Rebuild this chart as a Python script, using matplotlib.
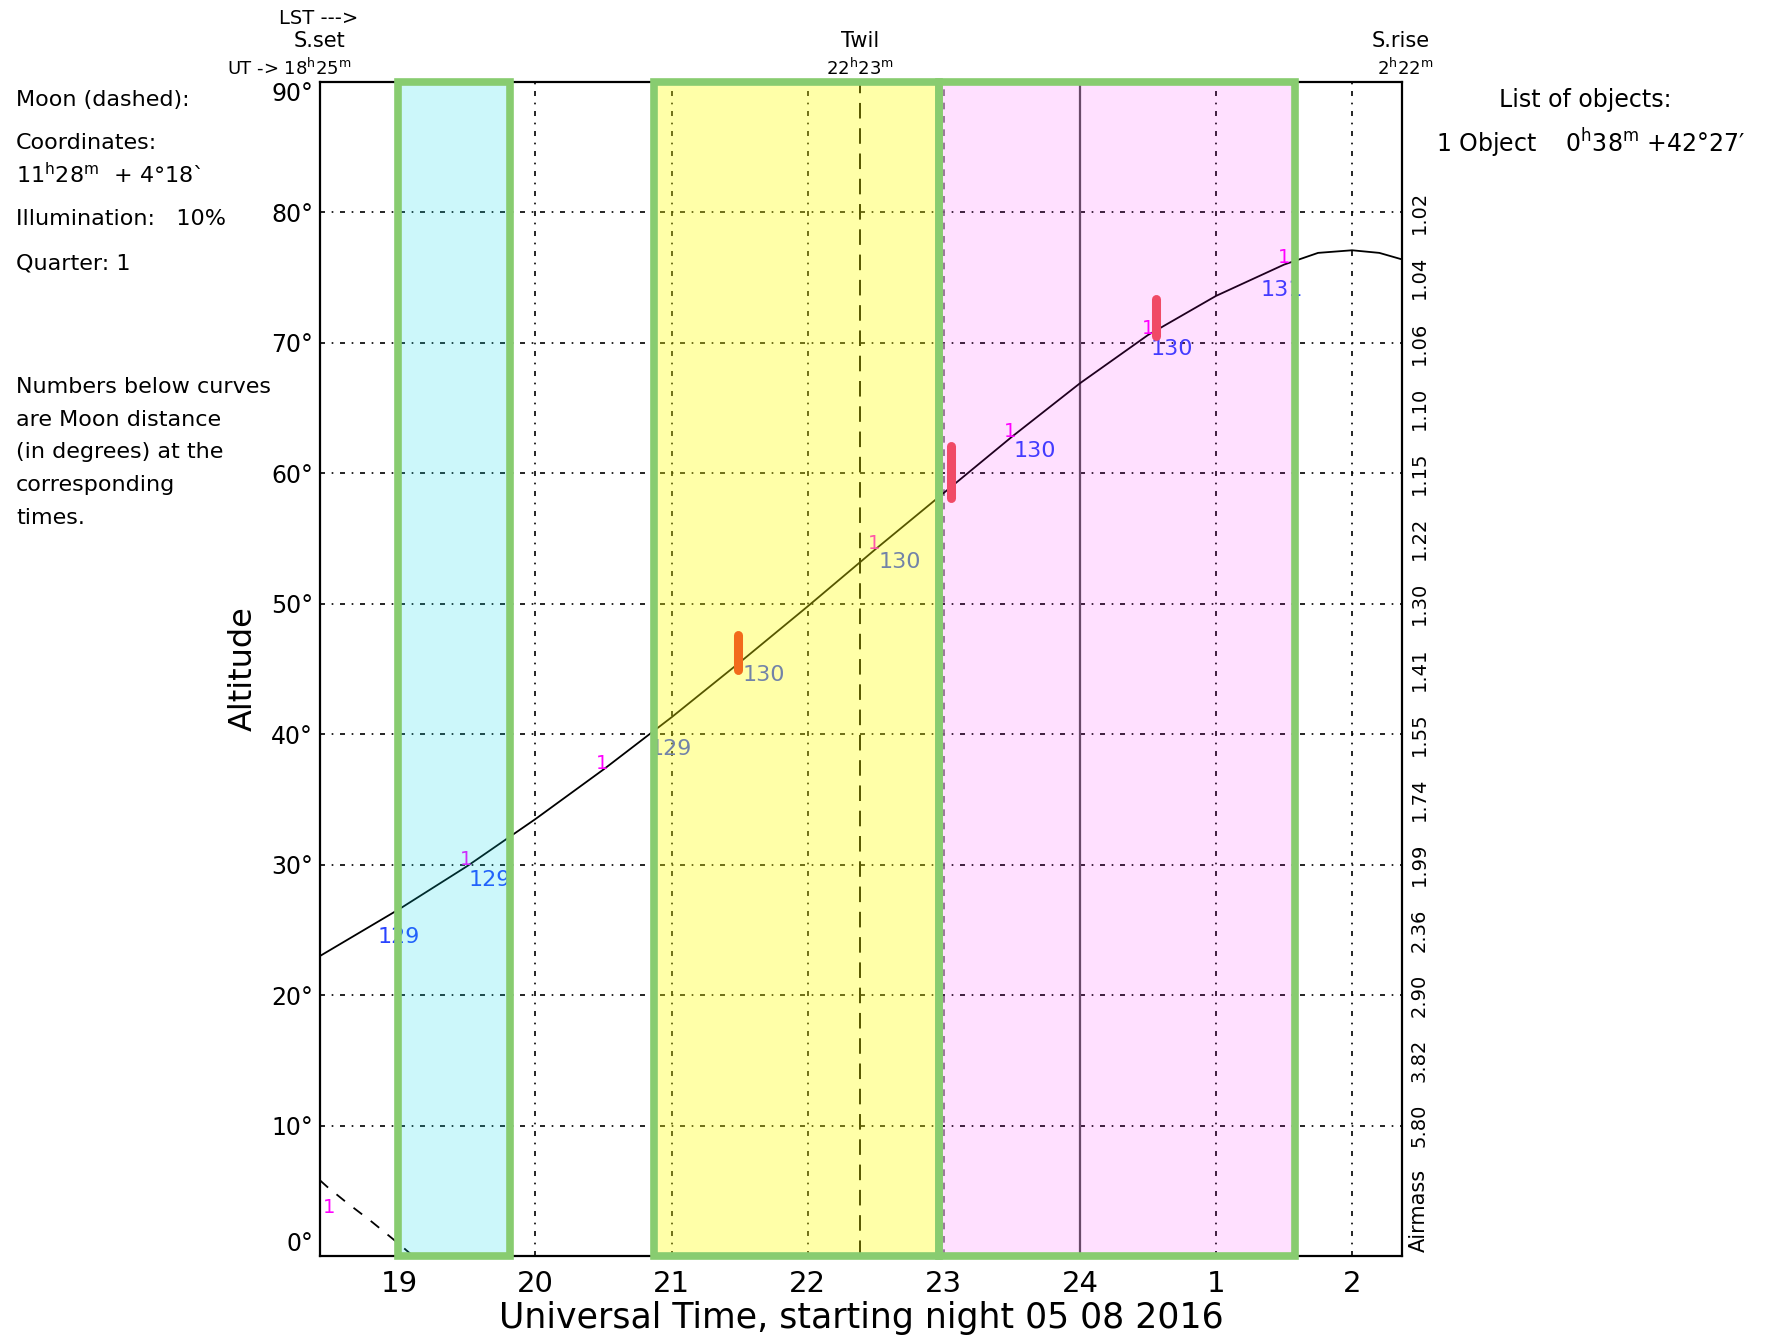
import numpy as np
import matplotlib
matplotlib.use('Agg')
import matplotlib.pyplot as plt
from matplotlib.patches import Rectangle
from matplotlib.transforms import blended_transform_factory

plt.rcParams['font.family'] = ['DejaVu Sans']
plt.rcParams['mathtext.default'] = 'regular'

# Night limits (UT hours, after midnight counted as 24+)
ut_set, ut_rise = 18.4167, 26.3667
ut_twil = 22.383

# Object 1 altitude curve
obj_ut = [18.4167, 19.0, 19.5, 20.0, 20.5, 21.0, 21.5, 22.0, 22.5, 23.0,
          23.5, 24.0, 24.5, 25.0, 25.5, 25.75, 26.0, 26.2, 26.3667]
obj_alt = [23.0, 26.6, 29.9, 33.5, 37.3, 41.3, 45.5, 49.8, 54.2, 58.5,
           62.8, 66.9, 70.6, 73.6, 76.0, 76.9, 77.1, 76.9, 76.4]

# Moon altitude (dashed)
moon_ut = [18.4167, 18.47, 18.6, 18.8, 19.0, 19.1]
moon_alt = [5.8, 5.3, 4.2, 2.6, 0.9, 0.0]

# object number markers and Moon distances
mark_ut = [19.49, 20.49, 22.49, 23.49, 24.50, 25.50]
dist_ut = [18.84, 19.51, 20.84, 21.52, 22.52, 23.51, 24.52, 25.33]
dist_txt = ['129', '129', '129', '130', '130', '130', '130', '131']

# observing windows
win_start = [18.99, 20.87, 22.963]
win_end = [19.81, 22.963, 25.58]
win_color = [(0.0, 0.86, 0.9), (1.0, 1.0, 0.0), (1.0, 0.0, 1.0)]
win_alpha = [0.2, 0.34, 0.12]

# coloured bars
bar_ut = [21.49, 23.05, 24.56]
bar_lo = [44.9, 58.1, 70.5]
bar_hi = [47.6, 62.1, 73.4]
bar_color = ['#f26a1c', '#f04a66', '#f04a66']

# airmass scale
am_alt = [80, 75, 70, 65, 60, 55, 50, 45, 40, 35, 30, 25, 20, 15, 10]
am_txt = ['1.02', '1.04', '1.06', '1.10', '1.15', '1.22', '1.30', '1.41',
          '1.55', '1.74', '1.99', '2.36', '2.90', '3.82', '5.80']

hour_ticks = [19, 20, 21, 22, 23, 24, 25, 26]
hour_labels = ['19', '20', '21', '22', '23', '24', '1', '2']
alt_ticks = [0, 10, 20, 30, 40, 50, 60, 70, 80, 90]

W, H = 1769, 1338
fig = plt.figure(figsize=(W / 100, H / 100), dpi=100)
ax = fig.add_axes([320 / W, 82 / H, 1082 / W, 1174 / H])
ax.set_xlim(ut_set, ut_rise)
ax.set_ylim(0, 90)

grid_ls = (0, (3, 4, 1, 4))
for a in alt_ticks[1:-1]:
    ax.axhline(a, color='black', lw=1.2, ls=grid_ls, zorder=1)
for h in hour_ticks:
    if h == 24:
        ax.axvline(h, color='#555555', lw=1.6, zorder=1)
    elif h == 23:
        ax.axvline(h, color='#777777', lw=1.2, ls=(0, (4, 4)), zorder=1)
    else:
        ax.axvline(h, color='black', lw=1.2, ls=grid_ls, zorder=1)
ax.axvline(ut_twil, color='black', lw=1.4, ls=(0, (8, 5)), zorder=1)

ax.plot(obj_ut, obj_alt, color='black', lw=1.3, zorder=2)
ax.plot(moon_ut, moon_alt, color='black', lw=1.3, ls=(0, (6, 6)), zorder=2)

ax.text(18.48, 3.0, '1', color='#ff00ff', fontsize=14, ha='center', va='bottom', zorder=3)
for t in mark_ut:
    ax.text(t, np.interp(t, obj_ut, obj_alt) - 0.2, '1', color='#ff00ff',
            fontsize=14, ha='center', va='bottom', zorder=3)
for t, s in zip(dist_ut, dist_txt):
    ax.text(t, np.interp(t, obj_ut, obj_alt) - 0.4, s, color='#2a44ff',
            fontsize=16, ha='left', va='top', zorder=3)

for x0, x1, c, a in zip(win_start, win_end, win_color, win_alpha):
    ax.axvspan(x0, x1, color=c, alpha=a, lw=0, zorder=4)

for t, lo, hi, c in zip(bar_ut, bar_lo, bar_hi, bar_color):
    ax.plot([t, t], [lo, hi], color=c, lw=6.5, solid_capstyle='round', zorder=5)

for x0, x1 in zip(win_start, win_end):
    ax.add_patch(Rectangle((x0, 0), x1 - x0, 90, fill=False, ec='#88cc70',
                           lw=5.5, joinstyle='miter', clip_on=False, zorder=6))

for s in ax.spines.values():
    s.set_linewidth(1.6)
ax.set_xticks(hour_ticks)
ax.set_xticklabels(hour_labels, fontsize=21)
ax.set_yticks(alt_ticks)
ylabels = ax.set_yticklabels([f'{a}°' for a in alt_ticks], fontsize=17)
ylabels[0].set_va('bottom')
ylabels[-1].set_va('top')
ax.tick_params(axis='both', length=0)
ax.tick_params(axis='x', pad=10)
ax.tick_params(axis='y', pad=5)

ax.text(-0.071, 0.5, 'Altitude', rotation=90, fontsize=23, ha='center',
        va='center', transform=ax.transAxes)

tr = blended_transform_factory(ax.transAxes, ax.transData)
for a, s in zip(am_alt, am_txt):
    ax.text(1.016, a, s, rotation=90, fontsize=14, ha='center', va='center', transform=tr)
ax.text(1.016, 0.3, 'Airmass', rotation=90, fontsize=15, ha='center', va='bottom', transform=tr)

fig.text(861 / W, 1 - 1318 / H, 'Universal Time, starting night 05 08 2016',
         fontsize=25, ha='center', va='center')

def ftext(x, y, s, **kw):
    fig.text(x / W, 1 - y / H, s, va='center', **kw)

ftext(319, 18, 'LST --->', fontsize=14, ha='center')
ftext(319, 41, 'S.set', fontsize=15, ha='center')
ftext(289, 68, r'UT -> 18$^{h}$25$^{m}$', fontsize=13, ha='center')
ftext(860, 41, 'Twil', fontsize=15, ha='center')
ftext(860, 68, r'22$^{h}$23$^{m}$', fontsize=13, ha='center')
ftext(1401, 41, 'S.rise', fontsize=15, ha='center')
ftext(1405, 68, r'2$^{h}$22$^{m}$', fontsize=13, ha='center')

left_lines = [(100, 'Moon (dashed):'), (143, 'Coordinates:'),
              (175, r'11$^{h}$28$^{m}$  + 4°18`'), (219, 'Illumination:   10%'),
              (264, 'Quarter: 1'), (387, 'Numbers below curves'),
              (420, 'are Moon distance'), (452, '(in degrees) at the'),
              (485, 'corresponding'), (518, 'times.')]
for y, s in left_lines:
    ftext(16, y, s, fontsize=16, ha='left')

ftext(1585, 100, 'List of objects:', fontsize=17, ha='center')
ftext(1436, 143, r'1 Object    0$^{h}$38$^{m}$ +42°27′', fontsize=17, ha='left')

fig.savefig('out.png', dpi=100)
